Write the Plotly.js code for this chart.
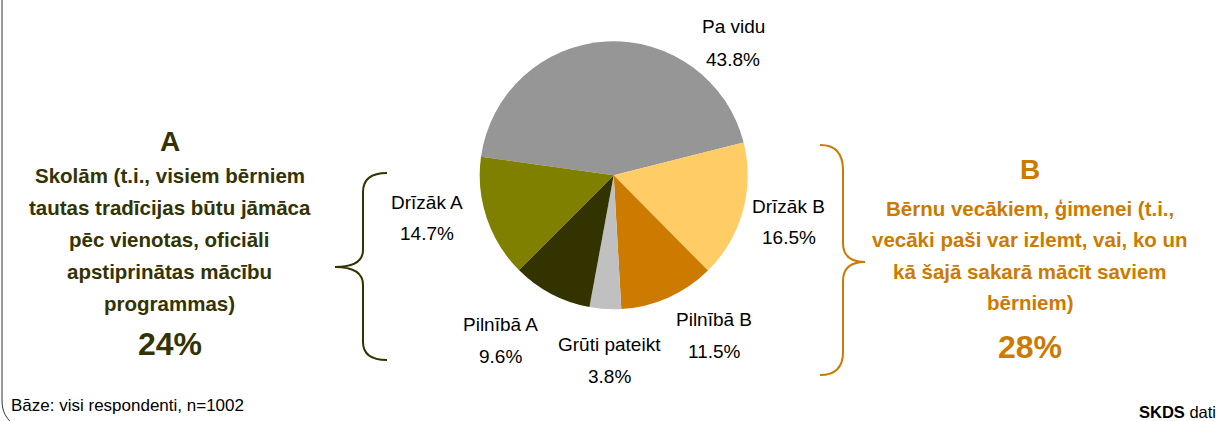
<!DOCTYPE html>
<html>
<head>
<meta charset="utf-8">
<script src="https://cdn.plot.ly/plotly-3.0.1.min.js"></script>
<style>html,body{margin:0;padding:0;background:#fff;}#chart{width:1220px;height:421px;}</style>
</head>
<body>
<div id="chart"></div>
<script>
// ---- data ----
const sliceLabels = ["Pa vidu", "Drīzāk B", "Pilnībā B", "Grūti pateikt", "Pilnībā A", "Drīzāk A"];
const sliceValues = [43.8, 16.5, 11.5, 3.8, 9.6, 14.7];
const groupATitle = "A";
const groupALines = ["Skolām (t.i., visiem bērniem", "tautas tradīcijas būtu jāmāca", "pēc vienotas, oficiāli", "apstiprinātas mācību", "programmas)"];
const groupAShare = "24%";
const groupBTitle = "B";
const groupBLines = ["Bērnu vecākiem, ģimenei (t.i.,", "vecāki paši var izlemt, vai, ko un", "kā šajā sakarā mācīt saviem", "bērniem)"];
const groupBShare = "28%";
const baseNote = "Bāze: visi respondenti, n=1002";
const sourceNote = "<b>SKDS</b> dati";

// ---- styles / positions ----
const W = 1220, H = 421;
const sliceColors = ["#969696", "#FFCC66", "#CC7A00", "#C0C0C0", "#333300", "#808000"];
const labelPos = [[733, 27, 59], [789, 206, 237], [714, 319, 351], [609, 344, 376], [500, 324, 356], [427, 202, 234]];
const colA = "#333300", colB = "#CC7A00";
const reg = "Liberation Sans, Arial, sans-serif";

const px = x => x / W;
const py = y => 1 - y / H;
function P(cmds) {
  return cmds.map(c => c[0] + ' ' + c.slice(1).map((v, i) =>
    (i % 2 === 0 ? px(v) : py(v)).toFixed(5)).join(' ')).join(' ');
}

const pie = {
  type: 'pie',
  labels: sliceLabels,
  values: sliceValues,
  sort: false,
  direction: 'clockwise',
  rotation: -82,
  marker: {colors: sliceColors, line: {width: 0}},
  textinfo: 'none',
  hoverinfo: 'none',
  showlegend: false,
  domain: {x: [479.7 / W, 747.7 / W], y: [py(309.3), py(41.3)]}
};

const ann = [];
function T(text, x, y, size, color, anchor) {
  ann.push({text: text, x: px(x), y: py(y), xref: 'paper', yref: 'paper', showarrow: false,
    xanchor: anchor || 'center', yanchor: 'middle', font: {size: size, color: color, family: reg}});
}
sliceLabels.forEach((l, i) => {
  T(l, labelPos[i][0], labelPos[i][1], 19, '#000');
  T(sliceValues[i].toFixed(1) + '%', labelPos[i][0], labelPos[i][2], 19, '#000');
});
T('<b>' + groupATitle + '</b>', 170, 141, 28, colA);
groupALines.forEach((l, i) => T('<b>' + l + '</b>', 170, 175 + i * 32.2, 20.5, colA));
T('<b>' + groupAShare + '</b>', 170, 344, 32, colA);
T('<b>' + groupBTitle + '</b>', 1030, 169, 28, colB);
groupBLines.forEach((l, i) => T('<b>' + l + '</b>', 1030, 208 + i * 31.5, 20.5, colB));
T('<b>' + groupBShare + '</b>', 1030, 347, 32, colB);
T(baseNote, 9, 405, 17, '#000', 'left');
T(sourceNote, 1218, 412, 16.5, '#000', 'right');

const shapes = [
  {type: 'path', xref: 'paper', yref: 'paper', line: {color: colA, width: 2},
   path: P([['M', 387, 173], ['Q', 363, 173, 363, 192], ['L', 363, 250], ['Q', 363, 267, 335, 267],
            ['Q', 363, 267, 363, 285], ['L', 363, 342], ['Q', 363, 360, 387, 360]])},
  {type: 'path', xref: 'paper', yref: 'paper', line: {color: colB, width: 2},
   path: P([['M', 820, 145], ['Q', 843, 145, 843, 170], ['L', 843, 243], ['Q', 843, 262, 865, 262],
            ['Q', 843, 262, 843, 281], ['L', 843, 352], ['Q', 843, 375, 820, 375]])},
  {type: 'path', xref: 'paper', yref: 'paper', line: {color: '#333', width: 1},
   path: P([['M', 2, -5], ['L', 2, 400], ['C', 2, 412, 6, 418, 14, 425]])}
];

Plotly.newPlot('chart', [pie], {
  width: W, height: H, autosize: false,
  margin: {l: 0, r: 0, t: 0, b: 0, pad: 0},
  paper_bgcolor: '#fff', plot_bgcolor: '#fff',
  annotations: ann, shapes: shapes, showlegend: false
}, {displayModeBar: false, staticPlot: true});
</script>
</body>
</html>
